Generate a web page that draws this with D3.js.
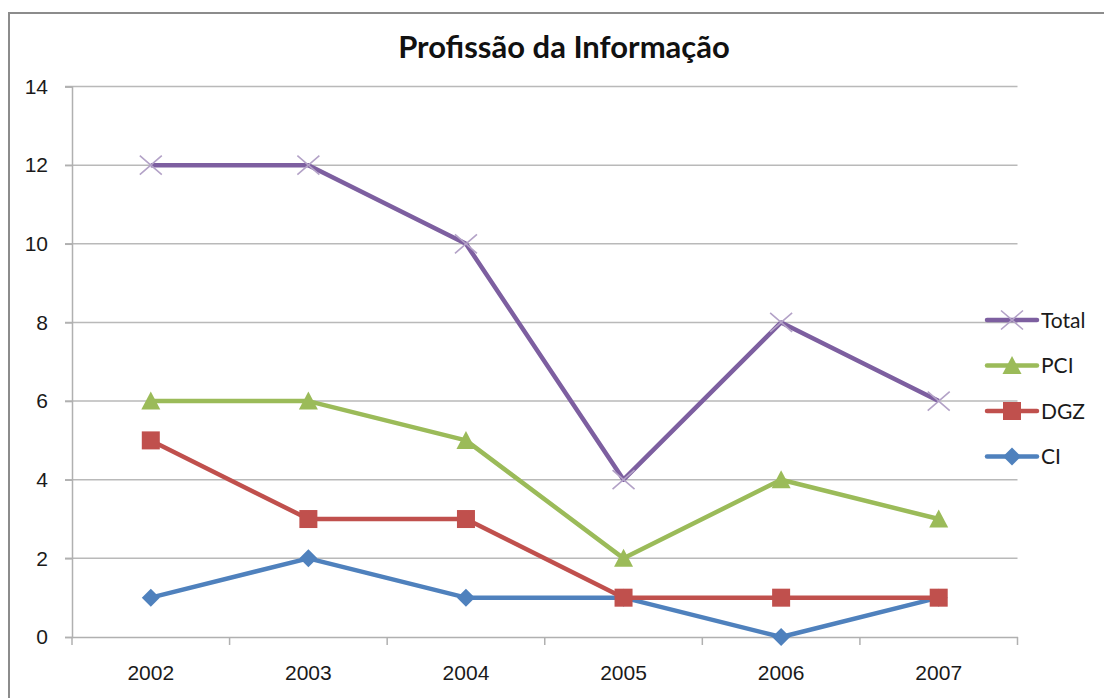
<!DOCTYPE html>
<html>
<head>
<meta charset="utf-8">
<script src="https://cdn.jsdelivr.net/npm/d3@7"></script>
<style>
  body { margin: 0; background: #fff; }
  svg { font-family: Lato, "Open Sans", sans-serif; }
</style>
</head>
<body>
<script>
// data
const years = ["2002", "2003", "2004", "2005", "2006", "2007"];
const total = [12, 12, 10, 4, 8, 6];
const pci = [6, 6, 5, 2, 4, 3];
const dgz = [5, 3, 3, 1, 1, 1];
const ci = [1, 2, 1, 1, 0, 1];
const yTicks = [0, 2, 4, 6, 8, 10, 12, 14];

const series = [
  {name: "Total", values: total, color: "#7D5FA0", marker: "x", mcolor: "#B3A2C7"},
  {name: "PCI", values: pci, color: "#9BBB59", marker: "triangle", mcolor: "#9BBB59"},
  {name: "DGZ", values: dgz, color: "#C0504D", marker: "square", mcolor: "#C0504D"},
  {name: "CI", values: ci, color: "#4F81BD", marker: "diamond", mcolor: "#4F81BD"}
];

const W = 1104, H = 698;
const svg = d3.select("body").append("svg").attr("width", W).attr("height", H);

// outer frame
svg.append("path")
  .attr("d", `M9,${H} V13 H${W}`)
  .attr("fill", "none").attr("stroke", "#8c8c8c").attr("stroke-width", 2);

const pLeft = 72, pRight = 1017.5, pTop = 86.5, pBottom = 637;

const x = d3.scaleBand().domain(years).range([pLeft, pRight]);
const y = d3.scaleLinear().domain([0, 14]).range([pBottom, pTop]);

// gridlines
svg.append("g").selectAll("line").data(yTicks.filter(d => d > 0)).join("line")
  .attr("x1", pLeft - 7).attr("x2", pRight)
  .attr("y1", d => y(d)).attr("y2", d => y(d))
  .attr("stroke", "#b9b9b9").attr("stroke-width", 1.5);

// y axis
const yAxis = svg.append("g").attr("transform", `translate(${pLeft},0)`)
  .call(d3.axisLeft(y).tickValues(yTicks).tickSize(7).tickPadding(17));
yAxis.select(".domain").attr("stroke", "#b0b0b0").attr("stroke-width", 1.5);
yAxis.selectAll(".tick line").attr("stroke", "#b0b0b0").attr("stroke-width", 1.5);
yAxis.selectAll("text").attr("font-size", 21).attr("fill", "#1a1a1a");

// x axis
const xAxis = svg.append("g").attr("transform", `translate(0,${pBottom})`)
  .call(d3.axisBottom(x).tickSize(0).tickPadding(28));
xAxis.select(".domain").attr("stroke", "#b0b0b0").attr("stroke-width", 1.5);
xAxis.selectAll("text").attr("font-size", 21).attr("fill", "#1a1a1a");
svg.append("g").selectAll("line").data(d3.range(years.length + 1)).join("line")
  .attr("x1", i => pLeft + i * x.step()).attr("x2", i => pLeft + i * x.step())
  .attr("y1", pBottom).attr("y2", pBottom + 8)
  .attr("stroke", "#b0b0b0").attr("stroke-width", 1.5);

// title
svg.append("text").attr("x", 564).attr("y", 58).attr("text-anchor", "middle")
  .attr("font-size", 31).attr("font-weight", "bold").attr("fill", "#111")
  .text("Profissão da Informação");

function drawMarker(g, type, color) {
  if (type === "x") {
    g.append("path").attr("d", "M-11,-9.5L11,9.5M-11,9.5L11,-9.5")
      .attr("stroke", color).attr("stroke-width", 1.6).attr("fill", "none");
  } else if (type === "triangle") {
    g.append("path").attr("d", "M0,-9.5L9.5,8.5H-9.5Z").attr("fill", color);
  } else if (type === "square") {
    g.append("rect").attr("x", -9).attr("y", -9).attr("width", 18).attr("height", 18).attr("fill", color);
  } else {
    g.append("path").attr("d", "M0,-9L9,0L0,9L-9,0Z").attr("fill", color);
  }
}

const line = d3.line().x((d, i) => x(years[i]) + x.bandwidth() / 2).y(d => y(d));

// draw back to front: CI first, Total last
series.slice().reverse().forEach(s => {
  const g = svg.append("g");
  g.append("path").attr("d", line(s.values)).attr("fill", "none")
    .attr("stroke", s.color).attr("stroke-width", 4.5).attr("stroke-linejoin", "round");
  s.values.forEach((v, i) => {
    const m = g.append("g").attr("transform", `translate(${x(years[i]) + x.bandwidth() / 2},${y(v)})`);
    drawMarker(m, s.marker, s.mcolor);
  });
});

// legend
const legend = svg.append("g");
series.forEach((s, i) => {
  const ly = 320 + i * 45.5;
  const g = legend.append("g").attr("transform", `translate(0,${ly})`);
  g.append("line").attr("x1", 987).attr("x2", 1037).attr("y1", 0).attr("y2", 0)
    .attr("stroke", s.color).attr("stroke-width", 4.5).attr("stroke-linecap", "round");
  const m = g.append("g").attr("transform", "translate(1012,0)");
  drawMarker(m, s.marker, s.mcolor);
  g.append("text").attr("x", 1041).attr("y", 7.5).attr("font-size", 21).attr("fill", "#1a1a1a").text(s.name);
});
</script>
</body>
</html>
